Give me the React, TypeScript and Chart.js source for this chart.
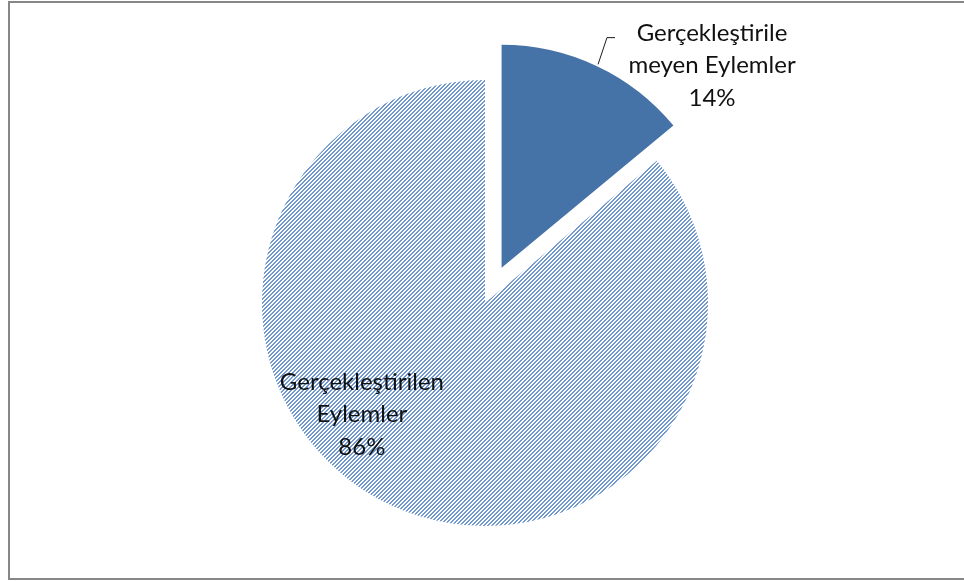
import React, { useEffect, useRef } from 'react';
import { Chart, registerables } from 'chart.js';

Chart.register(...registerables);

const categories = ['Gerçekleştirilemeyen Eylemler', 'Gerçekleştirilen Eylemler'];
const labelLines = [
  ['Gerçekleştirile', 'meyen Eylemler'],
  ['Gerçekleştirilen', 'Eylemler'],
];
const values = [14, 86];
const percentLabels = ['14%', '86%'];

const SOLID_BLUE = '#4572a7';
const HATCH_BLUE = '#7199d0';
const EXPLODE = 39;

function makeHatch(): CanvasPattern | string {
  const c = document.createElement('canvas');
  c.width = 4;
  c.height = 4;
  const g = c.getContext('2d');
  if (!g) return HATCH_BLUE;
  g.fillStyle = '#ffffff';
  g.fillRect(0, 0, 4, 4);
  g.fillStyle = HATCH_BLUE;
  for (let x = 0; x < 4; x++) {
    for (let y = 0; y < 4; y++) {
      if ((x + y) % 4 < 2) g.fillRect(x, y, 1, 1);
    }
  }
  const p = g.createPattern(c, 'repeat');
  return p || HATCH_BLUE;
}

const explodePlugin = {
  id: 'explodeFirst',
  afterDatasetUpdate(chart: any, args: any) {
    const meta = args.meta;
    const arc = meta.data[0];
    if (!arc) return;
    const mid = (arc.startAngle + arc.endAngle) / 2;
    arc.x += Math.cos(mid) * EXPLODE;
    arc.y += Math.sin(mid) * EXPLODE;
  },
};

const labelPlugin = {
  id: 'pieLabels',
  afterDraw(chart: any) {
    const ctx = chart.ctx;
    const meta = chart.getDatasetMeta(0);
    const main = meta.data[1];
    if (!main) return;
    const cx = main.x;
    const cy = main.y;
    const r = main.outerRadius;
    ctx.save();
    // frame
    ctx.strokeStyle = '#878787';
    ctx.lineWidth = 2;
    ctx.strokeRect(9, 2, 975, 577);

    ctx.fillStyle = '#111111';
    ctx.font = '24px Lato';
    ctx.textAlign = 'center';
    ctx.textBaseline = 'middle';
    const lh = 32.5;
    // label for slice 0 (outside)
    const l0 = [...labelLines[0], percentLabels[0]];
    const x0 = cx + 1.018 * r;
    const y0 = cy - 1.065 * r;
    l0.forEach((t, i) => ctx.fillText(t, x0, y0 + (i - 1) * lh));
    // label for slice 1 (inside)
    const l1 = [...labelLines[1], percentLabels[1]];
    const x1 = cx - 0.552 * r;
    const y1 = cy + 0.5 * r;
    l1.forEach((t, i) => ctx.fillText(t, x1, y1 + (i - 1) * lh));

    // leader line
    ctx.strokeStyle = '#1a1a1a';
    ctx.lineWidth = 1;
    ctx.beginPath();
    ctx.moveTo(cx + 0.507 * r, cy - 1.07 * r);
    ctx.lineTo(cx + 0.547 * r, cy - 1.19 * r);
    ctx.lineTo(cx + 0.583 * r, cy - 1.19 * r);
    ctx.stroke();
    ctx.restore();
  },
};

export default function App() {
  const ref = useRef<HTMLCanvasElement | null>(null);
  useEffect(() => {
    if (!ref.current) return;
    const hatch = makeHatch();
    const chart = new Chart(ref.current, {
      type: 'pie',
      data: {
        labels: categories,
        datasets: [
          {
            data: values,
            backgroundColor: [SOLID_BLUE, hatch as any],
            borderWidth: 0,
          },
        ],
      },
      options: {
        responsive: false,
        animation: false,
        events: [],
        layout: { padding: { left: 262, right: 256, top: 80, bottom: 55 } },
        plugins: {
          legend: { display: false },
          tooltip: { enabled: false },
        },
      },
      plugins: [explodePlugin, labelPlugin],
    });
    return () => chart.destroy();
  }, []);
  return (
    <div style={{ position: 'fixed', left: 0, top: 0, width: 964, height: 581, background: '#fff' }}>
      <canvas ref={ref} width={964} height={581} style={{ display: 'block' }} />
    </div>
  );
}
